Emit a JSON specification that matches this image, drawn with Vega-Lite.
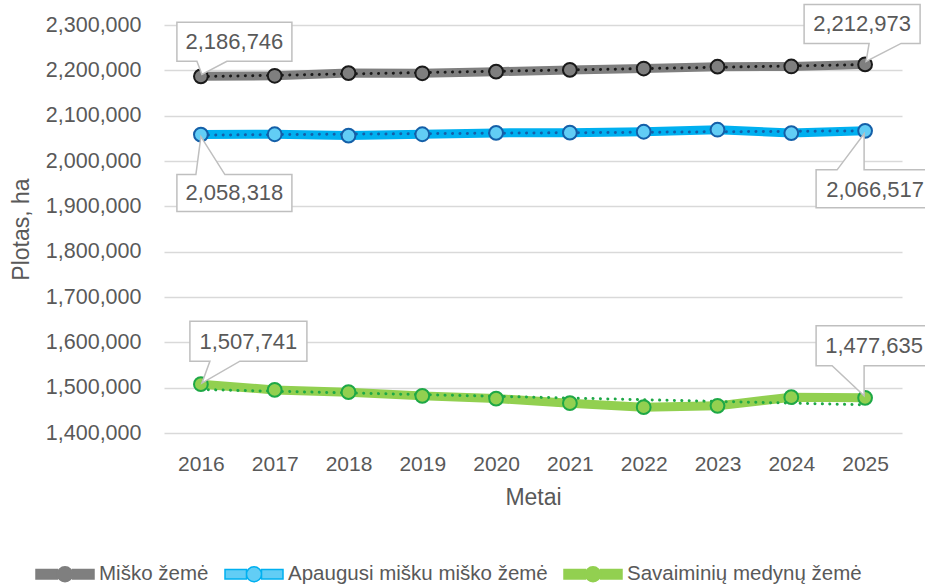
{
  "$schema": "https://vega.github.io/schema/vega-lite/v6.json",
  "autosize": {"type": "none"},
  "width": 738,
  "height": 408,
  "padding": {"left": 164, "top": 25, "right": 23, "bottom": 153},
  "background": "white",
  "config": {
    "view": {"stroke": null},
    "font": "Liberation Sans",
    "axis": {"labelFont": "Liberation Sans", "titleFont": "Liberation Sans", "labelColor": "#595959", "titleColor": "#595959", "titleFontWeight": "normal"}
  },
  "data": {
    "values": [
      {"year": 2016, "series": "Miško žemė", "value": 2186746},
      {"year": 2017, "series": "Miško žemė", "value": 2188000},
      {"year": 2018, "series": "Miško žemė", "value": 2194000},
      {"year": 2019, "series": "Miško žemė", "value": 2193500},
      {"year": 2020, "series": "Miško žemė", "value": 2197000},
      {"year": 2021, "series": "Miško žemė", "value": 2201000},
      {"year": 2022, "series": "Miško žemė", "value": 2204000},
      {"year": 2023, "series": "Miško žemė", "value": 2208000},
      {"year": 2024, "series": "Miško žemė", "value": 2208500},
      {"year": 2025, "series": "Miško žemė", "value": 2212973},
      {"year": 2016, "series": "Apaugusi mišku miško žemė", "value": 2058318},
      {"year": 2017, "series": "Apaugusi mišku miško žemė", "value": 2059000},
      {"year": 2018, "series": "Apaugusi mišku miško žemė", "value": 2056000},
      {"year": 2019, "series": "Apaugusi mišku miško žemė", "value": 2059000},
      {"year": 2020, "series": "Apaugusi mišku miško žemė", "value": 2062000},
      {"year": 2021, "series": "Apaugusi mišku miško žemė", "value": 2062500},
      {"year": 2022, "series": "Apaugusi mišku miško žemė", "value": 2064500},
      {"year": 2023, "series": "Apaugusi mišku miško žemė", "value": 2069000},
      {"year": 2024, "series": "Apaugusi mišku miško žemė", "value": 2061500},
      {"year": 2025, "series": "Apaugusi mišku miško žemė", "value": 2066517},
      {"year": 2016, "series": "Savaiminių medynų žemė", "value": 1507741},
      {"year": 2017, "series": "Savaiminių medynų žemė", "value": 1495000},
      {"year": 2018, "series": "Savaiminių medynų žemė", "value": 1490100},
      {"year": 2019, "series": "Savaiminių medynų žemė", "value": 1481900},
      {"year": 2020, "series": "Savaiminių medynų žemė", "value": 1476000},
      {"year": 2021, "series": "Savaiminių medynų žemė", "value": 1465800},
      {"year": 2022, "series": "Savaiminių medynų žemė", "value": 1457000},
      {"year": 2023, "series": "Savaiminių medynų žemė", "value": 1459900},
      {"year": 2024, "series": "Savaiminių medynų žemė", "value": 1479000},
      {"year": 2025, "series": "Savaiminių medynų žemė", "value": 1477635}
    ]
  },
  "encoding": {
    "x": {
      "field": "year", "type": "quantitative",
      "scale": {"domain": [2015.5, 2025.5], "nice": false, "zero": false},
      "axis": {"values": [2016, 2017, 2018, 2019, 2020, 2021, 2022, 2023, 2024, 2025], "format": "d", "grid": false, "ticks": false, "domain": false, "labelFontSize": 21, "labelPadding": 20, "title": "Metai", "titleFontSize": 23, "titlePadding": 12}
    },
    "y": {
      "field": "value", "type": "quantitative",
      "scale": {"domain": [1400000, 2300000], "nice": false, "zero": false},
      "axis": {"values": [1400000, 1500000, 1600000, 1700000, 1800000, 1900000, 2000000, 2100000, 2200000, 2300000], "labelExpr": "format(datum.value, ',')", "grid": true, "gridColor": "#d9d9d9", "gridWidth": 1.5, "ticks": false, "domain": false, "labelFontSize": 21.5, "labelPadding": 23, "title": "Plotas, ha", "titleFontSize": 23, "titlePadding": 12}
    }
  },
  "layer": [
    {
      "mark": {"type": "line", "strokeWidth": 9, "strokeJoin": "round"},
      "encoding": {
        "color": {
          "field": "series", "type": "nominal",
          "scale": {"domain": ["Miško žemė", "Apaugusi mišku miško žemė", "Savaiminių medynų žemė"], "range": ["#7f7f7f", "#00b0f0", "#92d050"]},
          "legend": {
            "orient": "none", "legendX": -129, "legendY": 519, "direction": "horizontal", "columns": 3, "title": null,
            "symbolType": "M-1,-0.16H-0.259V0.16H-1Z M0.259,0A0.259,0.259 0 1,1 -0.259,0A0.259,0.259 0 1,1 0.259,0Z M0.259,-0.16H1V0.16H0.259Z",
            "symbolSize": 3364, "symbolStrokeWidth": 1.5,
            "labelFont": "Liberation Sans", "labelFontSize": 20.5, "labelColor": "#595959", "labelOffset": 4, "labelLimit": 0, "columnPadding": 13,
            "encode": {"symbols": {"update": {"fill": {"scale": "color", "field": "value"}, "stroke": {"scale": "stroke", "field": "value"}, "strokeWidth": {"value": 1.5}, "opacity": {"value": 1}}}}
          }
        }
      }
    },
    {
      "transform": [{"regression": "value", "on": "year", "groupby": ["series"]}],
      "mark": {"type": "line", "strokeWidth": 3, "strokeCap": "round", "strokeDash": [0.1, 7.3]},
      "encoding": {
        "stroke": {
          "field": "series", "type": "nominal",
          "scale": {"domain": ["Miško žemė", "Apaugusi mišku miško žemė", "Savaiminių medynų žemė"], "range": ["#1a1a1a", "#145fa8", "#1ea846"]},
          "legend": null
        }
      }
    },
    {
      "mark": {"type": "point", "shape": "circle", "filled": true, "size": 190, "strokeWidth": 2, "opacity": 1},
      "encoding": {
        "fill": {
          "field": "series", "type": "nominal",
          "scale": {"domain": ["Miško žemė", "Apaugusi mišku miško žemė", "Savaiminių medynų žemė"], "range": ["#7f7f7f", "#62cdf5", "#92d050"]},
          "legend": null
        },
        "stroke": {"field": "series", "type": "nominal", "legend": null}
      }
    },
    {
      "transform": [{"filter": "datum.series === 'Miško žemė' && datum.year === 2016"}],
      "layer": [
        {"mark": {"type": "point", "shape": "M-24,-54H91V-15H26L1,-2L-4,-15H-24Z", "size": 4, "filled": true, "fill": "white", "stroke": "#bfbfbf", "strokeWidth": 1.5, "opacity": 1}},
        {"mark": {"type": "text", "dx": 33.5, "dy": -34.5, "align": "center", "baseline": "middle", "font": "Liberation Sans", "fontSize": 22, "fill": "#595959"}, "encoding": {"text": {"field": "value", "type": "quantitative", "format": ",.0f"}}}
      ]
    },
    {
      "transform": [{"filter": "datum.series === 'Apaugusi mišku miško žemė' && datum.year === 2016"}],
      "layer": [
        {"mark": {"type": "point", "shape": "M-24,40H-5L0,2L24,40H91V77H-24Z", "size": 4, "filled": true, "fill": "white", "stroke": "#bfbfbf", "strokeWidth": 1.5, "opacity": 1}},
        {"mark": {"type": "text", "dx": 33.5, "dy": 58.5, "align": "center", "baseline": "middle", "font": "Liberation Sans", "fontSize": 22, "fill": "#595959"}, "encoding": {"text": {"field": "value", "type": "quantitative", "format": ",.0f"}}}
      ]
    },
    {
      "transform": [{"filter": "datum.series === 'Miško žemė' && datum.year === 2025"}],
      "layer": [
        {"mark": {"type": "point", "shape": "M-61,-60H55V-21H36L1,-3L4,-21H-61Z", "size": 4, "filled": true, "fill": "white", "stroke": "#bfbfbf", "strokeWidth": 1.5, "opacity": 1}},
        {"mark": {"type": "text", "dx": -3, "dy": -40.5, "align": "center", "baseline": "middle", "font": "Liberation Sans", "fontSize": 22, "fill": "#595959"}, "encoding": {"text": {"field": "value", "type": "quantitative", "format": ",.0f"}}}
      ]
    },
    {
      "transform": [{"filter": "datum.series === 'Apaugusi mišku miško žemė' && datum.year === 2025"}],
      "layer": [
        {"mark": {"type": "point", "shape": "M-49,39H-28L-1,3L-1,39H64V77H-49Z", "size": 4, "filled": true, "fill": "white", "stroke": "#bfbfbf", "strokeWidth": 1.5, "opacity": 1}},
        {"mark": {"type": "text", "dx": 10, "dy": 59, "align": "center", "baseline": "middle", "font": "Liberation Sans", "fontSize": 22, "fill": "#595959"}, "encoding": {"text": {"field": "value", "type": "quantitative", "format": ",.0f"}}}
      ]
    },
    {
      "transform": [{"filter": "datum.series === 'Savaiminių medynų žemė' && datum.year === 2016"}],
      "layer": [
        {"mark": {"type": "point", "shape": "M-11,-63H106V-23H39L1,-1L9,-23H-11Z", "size": 4, "filled": true, "fill": "white", "stroke": "#bfbfbf", "strokeWidth": 1.5, "opacity": 1}},
        {"mark": {"type": "text", "dx": 47.5, "dy": -42.5, "align": "center", "baseline": "middle", "font": "Liberation Sans", "fontSize": 22, "fill": "#595959"}, "encoding": {"text": {"field": "value", "type": "quantitative", "format": ",.0f"}}}
      ]
    },
    {
      "transform": [{"filter": "datum.series === 'Savaiminių medynų žemė' && datum.year === 2025"}],
      "layer": [
        {"mark": {"type": "point", "shape": "M-49,-72H64V-32H-1L-1,-2L-33,-32H-49Z", "size": 4, "filled": true, "fill": "white", "stroke": "#bfbfbf", "strokeWidth": 1.5, "opacity": 1}},
        {"mark": {"type": "text", "dx": 9, "dy": -51.5, "align": "center", "baseline": "middle", "font": "Liberation Sans", "fontSize": 22, "fill": "#595959"}, "encoding": {"text": {"field": "value", "type": "quantitative", "format": ",.0f"}}}
      ]
    }
  ]
}
